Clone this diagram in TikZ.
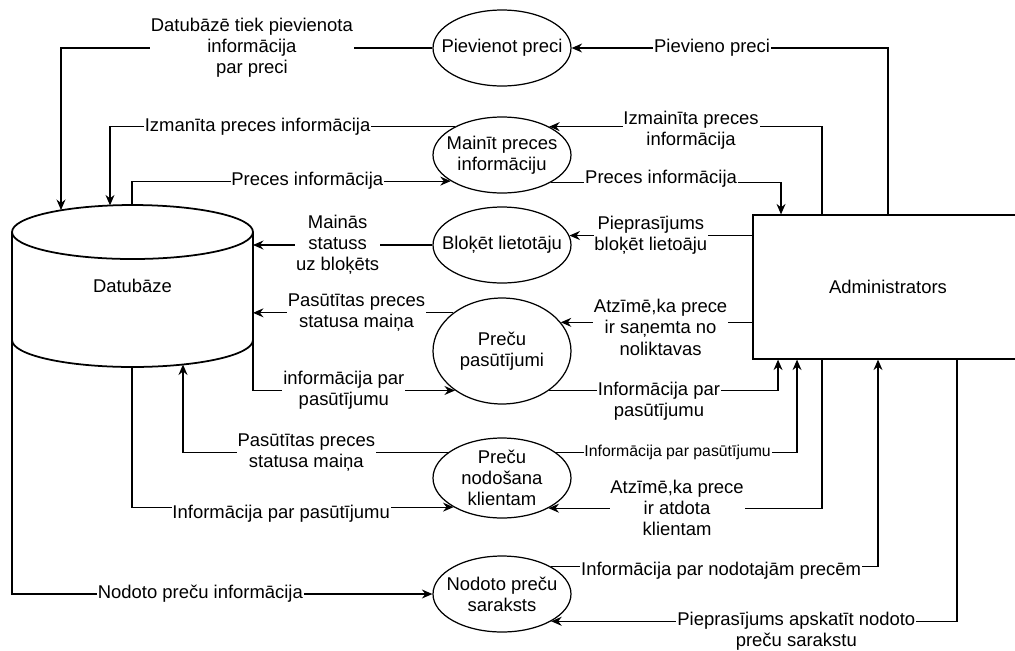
\documentclass[tikz,border=0pt]{standalone}
\usepackage{fontspec}
\setmainfont{Liberation Sans}
\usetikzlibrary{shapes.geometric, arrows.meta}

\begin{document}
\begin{tikzpicture}[x=0.02cm, y=-0.02cm, line width=0.7pt,
			> = {Stealth[length=2.1mm, width=1.8mm, inset=0.7mm]},
			font = \fontsize{10.5}{12}\selectfont,
			process/.style = {draw, ellipse, inner xsep=-1cm, inner ysep=-0.5cm,
				minimum width=2.76cm, minimum height=1.52cm, align=center},
			lbl/.style = {fill=white, inner sep=0.5pt, align=center},
			lbls/.style = {lbl, font=\fontsize{9}{11}\selectfont}]
			\useasboundingbox (0,0) rectangle (1015,650);
			
			% datubaze
			\node (db) [minimum width=4.82cm, minimum height=2.16cm, inner sep=0pt, outer sep=0pt] at (132.5,286) {Datubāze};
			\draw[line width=1pt] (db.north) ellipse [x radius=2.41cm, y radius=0.54cm]
			(db.north west) -- (db.south west)
			(db.north east) -- (db.south east)
			(db.south west) arc [start angle=180, end angle=360, x radius=2.41cm, y radius=0.54cm];
			\coordinate (dbin1) at (61,210);
			\coordinate (dbin2) at (110,205.4);
			\coordinate (dbout3) at (132,205);
			\coordinate (dbin4) at (183,364.5);
			\coordinate (dbout5) at (132,367);
			
			% procesi
			\node (pievienot) [process] at (502,48) {Pievienot preci};
			\node (mainit) [process] at (502,155) {Mainīt preces\\informāciju};
			\node (bloket) [process] at (502,245) {Bloķēt lietotāju};
			\node (pasut) [process, minimum height=2.12cm] at (502,351) {Preču\\pasūtījumi};
			\node (nodos) [process, minimum height=1.6cm] at (502,478) {Preču\\nodošana\\klientam};
			\node (nodoto) [process] at (502,594) {Nodoto preču\\saraksts};
			
			\node (admin) [draw, minimum width=5.4cm, minimum height=2.88cm, inner sep=0pt] at (888,287) {Administrators};
			
			% plusmas
			\draw[->] (pievienot.west) -| node[lbl, pos=0.243] {Datubāzē tiek pievienota\\informācija\\par preci} (dbin1);
			\draw[->] (mainit.149) -| node[lbl, pos=0.286] {Izmanīta preces informācija} (dbin2);
			\draw[->] (dbout3) |- node[lbl, pos=0.775] {Preces informācija} (mainit.207);
			\draw[->] (bloket.west) -- node[lbl, pos=0.528] {Mainās\\statuss\\uz bloķēts} (bloket.west -| db.east);
			\draw[->] (pasut.142) -- node[lbl, pos=0.483] {Pasūtītas preces\\statusa maiņa} (pasut.142 -| db.east);
			\draw[->] (db.south east) |- node[lbl, pos=0.725] {informācija par\\pasūtījumu} (pasut.220);
			\draw[->] (pasut.320) -| node[lbl, pos=0.24, yshift=-0.21cm] {Informācija par\\pasūtījumu} ([xshift=-2.2cm]admin.south);
			\draw[->] (admin.west |- pasut.26) -- node[lbl, pos=0.479, yshift=-0.1cm] {Atzīmē,ka prece\\ir saņemta no\\noliktavas} (pasut.26);
			\draw[->] (admin.west |- bloket.8) -- node[lbl, pos=0.555] {Pieprasījums\\bloķēt lietoāju} (bloket.8);
			\draw[->] ([xshift=-1.32cm]admin.north) |- node[lbl, pos=0.74, yshift=-0.07cm] {Izmainīta preces\\informācija} (mainit.31);
			\draw[->] (mainit.331) -| node[lbl, pos=0.239, yshift=0.08cm] {Preces informācija} ([xshift=-2.14cm]admin.north);
			\draw[->] (admin.north) |- node[lbl, pos=0.778] {Pievieno preci} (pievienot.east);
			%
			\draw[->] (nodos.25) -| node[lbls, pos=0.252] {Informācija par pasūtījumu} ([xshift=-1.82cm]admin.south);
			\draw[->] ([xshift=-1.32cm]admin.south) |- node[lbl, pos=0.765] {Atzīmē,ka prece\\ir atdota\\klientam} (nodos.327);
			\draw[->] (nodoto.29) -| node[lbl, pos=0.26, yshift=-0.08cm] {Informācija par nodotajām precēm} ([xshift=-0.2cm]admin.south);
			\draw[->] ([xshift=1.38cm]admin.south) |- node[lbl, pos=0.698, yshift=-0.2cm] {Pieprasījums apskatīt nodoto\\preču sarakstu} (nodoto.331);
			\draw[->] (nodos.155) -| node[lbl, pos=0.267] {Pasūtītas preces\\statusa maiņa} (dbin4);
			\draw[->] (dbout5) |- node[lbl, pos=0.732, yshift=-0.14cm] {Informācija par pasūtījumu} (nodos.211);
			\draw[->] (db.south west) |- node[lbl, pos=0.724] {Nodoto preču informācija} (nodoto.west);
		\end{tikzpicture}
\end{document}
